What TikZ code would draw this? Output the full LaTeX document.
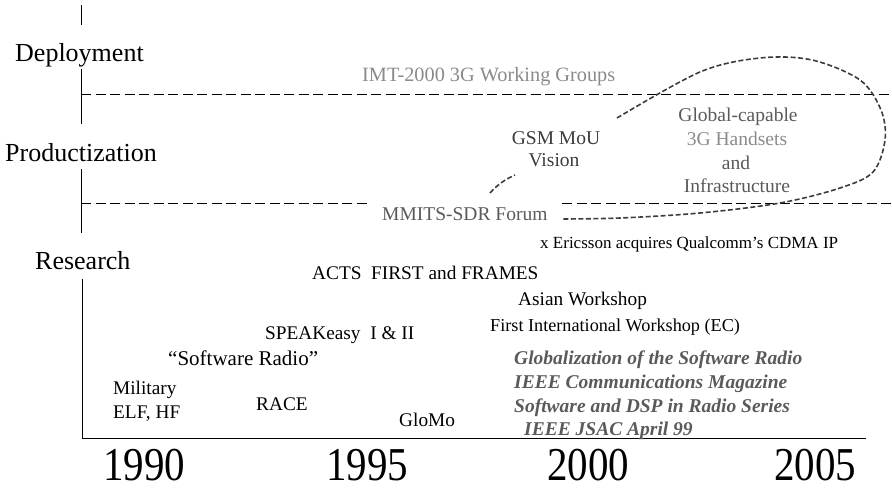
\documentclass[tikz,border=0pt]{standalone}
\usepackage{fontspec}
\setmainfont{Liberation Serif}
\definecolor{lgray}{HTML}{8A8A8A}
\definecolor{mgray}{HTML}{5A5A5A}
\definecolor{dgray}{HTML}{3C3C3C}
\begin{document}
\begin{tikzpicture}[x=1pt,y=-1pt,
  big/.style={font=\fontsize{26}{28}\selectfont, inner sep=0pt, anchor=base west},
  med/.style={font=\fontsize{19.5}{21}\selectfont, inner sep=0pt, anchor=base west},
  res/.style={font=\fontsize{19.3}{21}\selectfont, inner sep=0pt, anchor=base west},
  pub/.style={font=\fontsize{19.5}{21}\selectfont\bfseries\itshape, text=mgray, inner sep=0pt, anchor=base west},
  yr/.style={inner sep=0pt, anchor=base},
  axis/.style={line width=0.9pt},
  level/.style={line width=0.9pt, dash pattern=on 10pt off 4.5pt},
  loop/.style={line width=1.6pt, dash pattern=on 5pt off 2.5pt, draw=dgray}]
\useasboundingbox (0,0) rectangle (892,498);
% vertical axis pieces
\draw[axis] (81,5) -- (81,25);
\draw[axis] (81,69) -- (81,124);
\draw[axis] (81,169) -- (81,233);
\draw[axis] (82,279) -- (82,438) -- (866,438);
% level lines
\draw[level] (81,94) -- (892,94);
\draw[level] (81,203) -- (369,203);
\draw[level] (562,203) -- (892,203);
% level labels
\node[big] (dep) at (15,61) {Deployment};
\node[big] (prod) at (5,161) {Productization};
\node[big] (res) at (35,269) {Research};
% upper labels
\node[med, text=lgray, font=\fontsize{20.3}{22}\selectfont] (imt) at (362,81) {IMT-2000 3G Working Groups};
\node[med, text=mgray] (mmits) at (382,220) {MMITS-SDR Forum};
\node[med, text=dgray, anchor=base] (gsm) at (556,144) {GSM MoU};
\node[med, text=dgray, anchor=base] (vis) at (554,166) {Vision};
\node[med, text=mgray, anchor=base] (glob) at (738,121) {Global-capable};
\node[med, text=lgray, anchor=base] (hand) at (737,145) {3G Handsets};
\node[med, text=mgray, anchor=base] (and) at (736,169) {and};
\node[med, text=mgray, anchor=base] (infra) at (737,192) {Infrastructure};
\node[font=\fontsize{17}{19}\selectfont, inner sep=0pt, anchor=base west] (eric) at (540,248) {x Ericsson acquires Qualcomm’s CDMA IP};
% research labels
\node[res] (acts) at (312,279) {ACTS\ \ FIRST and FRAMES};
\node[res] (asian) at (518,305) {Asian Workshop};
\node[res, font=\fontsize{18.2}{20}\selectfont] (first) at (490,331) {First International Workshop (EC)};
\node[res] (speak) at (265,339) {SPEAKeasy\ \ I \& II};
\node[res, font=\fontsize{21}{23}\selectfont] (swr) at (168,365) {“Software Radio”};
\node[res] (mil) at (113,394) {Military};
\node[res] (elf) at (113,418) {ELF, HF};
\node[res] (race) at (256,410) {RACE};
\node[res] (glomo) at (399,426) {GloMo};
\node[pub] (p1) at (514,364) {Globalization of the Software Radio};
\node[pub] (p2) at (514,388) {IEEE Communications Magazine};
\node[pub] (p3) at (514,412) {Software and DSP in Radio Series};
\node[pub] (p4) at (524,435) {IEEE JSAC April 99};
% years
\node[yr] (y90) at (144,480) {\scalebox{1}[1.15]{\fontsize{41}{41}\selectfont 1990}};
\node[yr] (y95) at (367,480) {\scalebox{1}[1.15]{\fontsize{41}{41}\selectfont 1995}};
\node[yr] (y00) at (588,480) {\scalebox{1}[1.15]{\fontsize{41}{41}\selectfont 2000}};
\node[yr] (y05) at (815,480) {\scalebox{1}[1.15]{\fontsize{41}{41}\selectfont 2005}};
% dashed evolution curve
\coordinate (c1) at (490,193);
\coordinate (c2) at (515,175);
\coordinate (c3) at (617,118);
\coordinate (c4) at (562,219);
\draw[loop] (c1) .. controls (498,184) and (506,179) .. (c2);
\draw[loop] plot[smooth, tension=0.55] coordinates {(c3) (700,72) (760,58) (812,60) (860,80) (881,110) (885,140) (873,172) (840,188) (780,203) (700,213) (620,218) (c4)};
\end{tikzpicture}
\end{document}
